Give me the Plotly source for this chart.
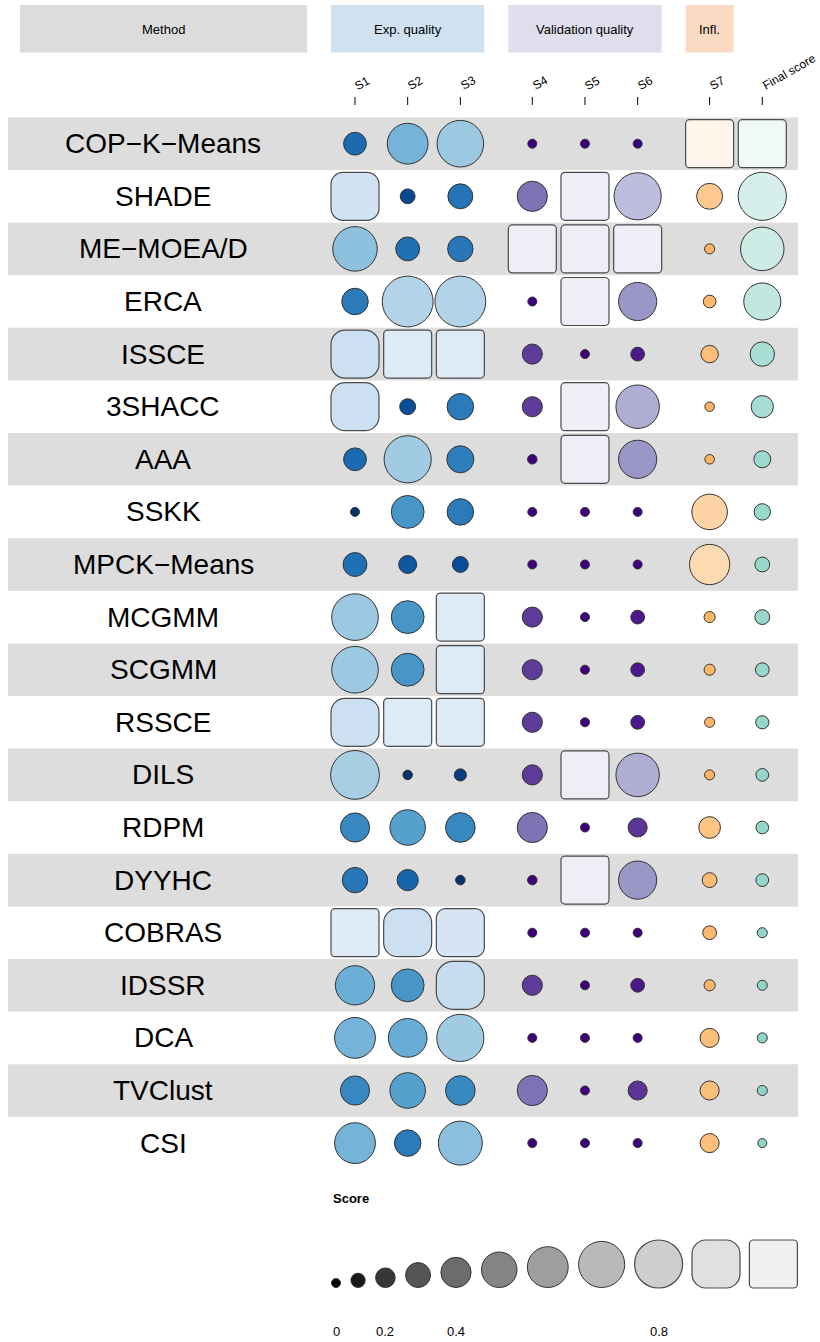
import plotly.graph_objects as go

# ---- data (scaled scores, 0..1) ----
methods = ["COP−K−Means", "SHADE", "ME−MOEA/D", "ERCA", "ISSCE", "3SHACC", "AAA", "SSKK",
           "MPCK−Means", "MCGMM", "SCGMM", "RSSCE", "DILS", "RDPM", "DYYHC", "COBRAS",
           "IDSSR", "DCA", "TVClust", "CSI"]

s1 = [0.26, 0.92, 0.67, 0.33, 0.90, 0.90, 0.26, 0.00, 0.28, 0.71,
      0.71, 0.90, 0.75, 0.38, 0.31, 1.00, 0.57, 0.60, 0.38, 0.60]
s2 = [0.60, 0.11, 0.28, 0.79, 1.00, 0.13, 0.72, 0.45, 0.17, 0.45,
      0.45, 1.00, 0.01, 0.50, 0.23, 0.90, 0.45, 0.56, 0.50, 0.33]
s3 = [0.71, 0.30, 0.31, 0.79, 1.00, 0.33, 0.34, 0.33, 0.13, 1.00,
      1.00, 1.00, 0.06, 0.39, 0.01, 0.95, 0.87, 0.72, 0.39, 0.66]
s4 = [0.00, 0.40, 1.00, 0.00, 0.21, 0.21, 0.01, 0.00, 0.00, 0.21,
      0.21, 0.21, 0.21, 0.40, 0.01, 0.00, 0.21, 0.00, 0.40, 0.00]
s5 = [0.00, 1.00, 1.00, 1.00, 0.00, 1.00, 1.00, 0.00, 0.00, 0.00,
      0.00, 0.00, 1.00, 0.00, 1.00, 0.00, 0.00, 0.00, 0.00, 0.00]
s6 = [0.00, 0.72, 1.00, 0.55, 0.09, 0.65, 0.55, 0.00, 0.00, 0.09,
      0.09, 0.09, 0.65, 0.19, 0.55, 0.00, 0.09, 0.00, 0.19, 0.00]
s7 = [1.00, 0.32, 0.02, 0.07, 0.16, 0.01, 0.01, 0.50, 0.59, 0.04,
      0.04, 0.02, 0.02, 0.24, 0.11, 0.09, 0.04, 0.19, 0.19, 0.19]
final_score = [1.00, 0.74, 0.65, 0.53, 0.29, 0.25, 0.15, 0.14, 0.11, 0.11,
               0.09, 0.08, 0.07, 0.07, 0.07, 0.02, 0.02, 0.02, 0.02, 0.00]

column_labels = ["S1", "S2", "S3", "S4", "S5", "S6", "S7", "Final score"]
column_values = [s1, s2, s3, s4, s5, s6, s7, final_score]
column_group = ["exp", "exp", "exp", "val", "val", "val", "infl", "final"]

group_labels = ["Exp. quality", "Validation quality", "Infl."]
group_keys = ["exp", "val", "infl"]

legend_values = [0.0, 0.1, 0.2, 0.3, 0.4, 0.5, 0.6, 0.7, 0.8, 0.9, 1.0]
legend_ticks = [0.0, 0.2, 0.4, 0.8]
legend_tick_labels = ["0", "0.2", "0.4", "0.8"]

# ---- palettes ----
palettes = {
    "exp": ["#08306B", "#08519C", "#2171B5", "#4292C6", "#6BAED6", "#9ECAE1", "#C6DBEF", "#DEEBF7"],
    "val": ["#3F007D", "#54278F", "#6A51A3", "#807DBA", "#9E9AC8", "#BCBDDC", "#DADAEB", "#EFEDF5"],
    "infl": ["#FDB462", "#FFF5EB"],
    "final": ["#8DD3C7", "#EFF9F6"],
    "legend": ["#000000", "#252525", "#525252", "#737373", "#969696", "#BDBDBD", "#D9D9D9", "#F0F0F0"],
}
header_colors = {"method": "#DCDCDC", "exp": "#D0E2F0", "val": "#DFDEED", "infl": "#FBD9C3"}


def ramp(stops, v):
    v = min(max(v, 0), 1)
    pos = v * (len(stops) - 1)
    i = min(int(pos), len(stops) - 2)
    t = pos - i
    a = [int(stops[i][j:j + 2], 16) for j in (1, 3, 5)]
    b = [int(stops[i + 1][j:j + 2], 16) for j in (1, 3, 5)]
    c = [round(a[k] + (b[k] - a[k]) * t) for k in range(3)]
    return "#%02X%02X%02X" % tuple(c)


def glyph_width(v):
    return 9 + 53 * v if v < 0.8 else 48


def glyph(cx, cy, v, fill):
    if v < 0.8:
        d = glyph_width(v)
        return dict(type="circle", xref="x", yref="y", x0=cx - d / 2, x1=cx + d / 2,
                    y0=cy - d / 2, y1=cy + d / 2, fillcolor=fill,
                    line=dict(color="#333333", width=1), layer="above")
    a = 24
    r = 24 - (v - 0.8) / 0.2 * 20
    k = 0.5523 * r
    x0, x1, y0, y1 = cx - a, cx + a, cy - a, cy + a
    p = (f"M{x0 + r},{y0} L{x1 - r},{y0} C{x1 - r + k},{y0} {x1},{y0 + r - k} {x1},{y0 + r} "
         f"L{x1},{y1 - r} C{x1},{y1 - r + k} {x1 - r + k},{y1} {x1 - r},{y1} "
         f"L{x0 + r},{y1} C{x0 + r - k},{y1} {x0},{y1 - r + k} {x0},{y1 - r} "
         f"L{x0},{y0 + r} C{x0},{y0 + r - k} {x0 + r - k},{y0} {x0 + r},{y0} Z")
    return dict(type="path", xref="x", yref="y", path=p, fillcolor=fill,
                line=dict(color="#4A4A4A", width=1.2), layer="above")


# ---- layout geometry ----
row_y0, row_h = 143.7, 52.6
col_x0, col_step, group_gap = 355, 52.67, 19.3
font = "Liberation Sans, Arial, sans-serif"

col_x = []
gaps = 0
for j, g in enumerate(column_group):
    if j > 0 and g != column_group[j - 1] and g != "final":
        gaps += 1
    col_x.append(col_x0 + col_step * j + group_gap * gaps)

shapes, annotations = [], []

# row stripes and method labels
for i, m in enumerate(methods):
    cy = row_y0 + row_h * i
    if i % 2 == 0:
        shapes.append(dict(type="rect", xref="x", yref="y", x0=8, x1=798,
                           y0=cy - row_h / 2, y1=cy + row_h / 2,
                           fillcolor="#DDDDDD", line=dict(width=0), layer="below"))
    annotations.append(dict(x=163, y=cy, text=m, showarrow=False, xanchor="center",
                            yanchor="middle", font=dict(family=font, size=28, color="black")))

# header boxes
shapes.append(dict(type="rect", x0=20, x1=307, y0=5, y1=52.5, fillcolor=header_colors["method"],
                   line=dict(width=0), layer="below"))
annotations.append(dict(x=163.5, y=29, text="Method", showarrow=False,
                        font=dict(family=font, size=13, color="black")))
for key, lab in zip(group_keys, group_labels):
    xs = [x for x, g in zip(col_x, column_group) if g == key]
    shapes.append(dict(type="rect", x0=min(xs) - 24, x1=max(xs) + 24, y0=5, y1=52.5,
                       fillcolor=header_colors[key], line=dict(width=0), layer="below"))
    annotations.append(dict(x=(min(xs) + max(xs)) / 2, y=29, text=lab, showarrow=False,
                            font=dict(family=font, size=13, color="black")))

# column labels and ticks
for x, lab in zip(col_x, column_labels):
    shapes.append(dict(type="line", x0=x, x1=x, y0=97, y1=105,
                       line=dict(color="black", width=1)))
    annotations.append(dict(x=x - 5, y=96, text=lab, showarrow=False, textangle=-30,
                            xanchor="left", yanchor="bottom",
                            font=dict(family=font, size=12, color="black")))

# cells
for x, vals, g in zip(col_x, column_values, column_group):
    for i, v in enumerate(vals):
        cy = row_y0 + row_h * i
        shapes.append(glyph(x, cy, v, ramp(palettes[g], v)))

# legend
annotations.append(dict(x=331, y=1198, text="<b>Score</b>", showarrow=False, xanchor="left",
                        font=dict(family=font, size=13, color="black")))
lx = 336
prev_w = None
legend_x = []
for v in legend_values:
    w = glyph_width(v) + (1 if v < 0.8 else 0)
    if prev_w is not None:
        lx += (prev_w + w) / 2 + 9.4
    legend_x.append(lx)
    shapes.append(glyph(lx, 1288 - w / 2, v, ramp(palettes["legend"], v)))
    prev_w = w
for t, lab in zip(legend_ticks, legend_tick_labels):
    idx = legend_values.index(t)
    annotations.append(dict(x=legend_x[idx], y=1331, text=lab, showarrow=False,
                            font=dict(family=font, size=13, color="black")))

fig = go.Figure(go.Scatter(x=[0], y=[0], mode="markers", marker=dict(opacity=0), hoverinfo="skip"))
fig.update_layout(
    width=820, height=1342, margin=dict(l=0, r=0, t=0, b=0),
    paper_bgcolor="white", plot_bgcolor="white", showlegend=False,
    xaxis=dict(range=[0, 820], visible=False, fixedrange=True),
    yaxis=dict(range=[1342, 0], visible=False, fixedrange=True),
    shapes=shapes, annotations=annotations,
)
fig.write_html("out.html", config={"displayModeBar": False},
               post_script="document.body.style.margin='0';document.body.style.overflow='hidden';")
